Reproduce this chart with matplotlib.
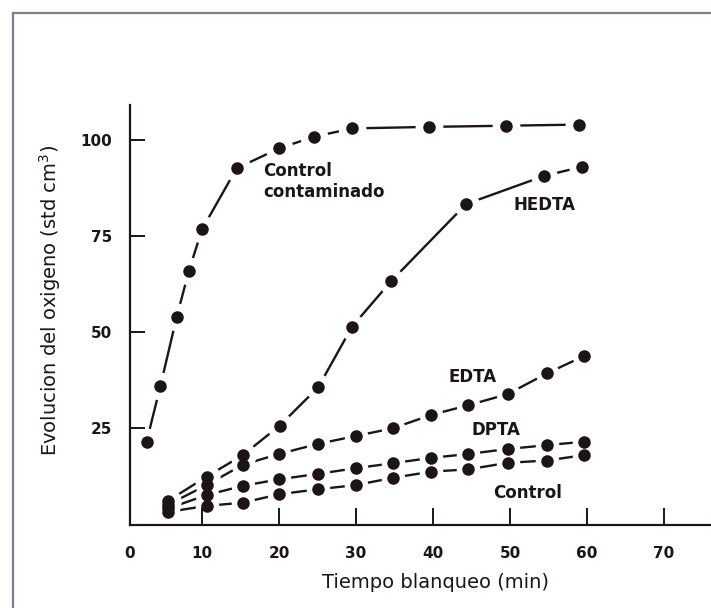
import matplotlib
matplotlib.use("Agg")
import matplotlib.pyplot as plt
from matplotlib.lines import Line2D

# ---- data ----
t_cc = [2.8, 4.6, 6.7, 8.3, 10.0, 14.5, 20.0, 24.5, 29.5, 39.5, 49.5, 59.0]
o2_cc = [21.5, 36.0, 53.9, 66.0, 76.8, 92.7, 97.9, 100.9, 103.1, 103.5, 103.8, 104.1]

t_hedta = [5.6, 10.6, 15.3, 20.1, 25.1, 29.5, 34.6, 44.3, 54.4, 59.3]
o2_hedta = [6.1, 12.4, 18.0, 25.7, 35.7, 51.5, 63.4, 83.4, 90.7, 93.1]

t_std = [5.6, 10.6, 15.3, 20.0, 25.0, 30.0, 34.8, 39.8, 44.6, 49.7, 54.8, 59.6]
o2_edta = [5.1, 10.2, 15.5, 18.3, 20.9, 23.0, 25.0, 28.5, 31.0, 33.9, 39.3, 43.8]
o2_dpta = [4.1, 7.6, 10.0, 11.7, 13.1, 14.6, 15.9, 17.3, 18.3, 19.6, 20.6, 21.5]
o2_control = [3.2, 4.8, 5.6, 7.8, 9.1, 10.2, 12.1, 13.7, 14.3, 16.0, 16.6, 18.0]

xtick_pos = [0.65, 10, 20, 30, 40, 50, 60, 70]
xtick_lab = ["0", "10", "20", "30", "40", "50", "60", "70"]
ytick_pos = [25, 50, 75, 100]
ytick_lab = ["25", "50", "75", "100"]

labels = ["Control\ncontaminado", "HEDTA", "EDTA", "DPTA", "Control"]
label_pos = [(17.9, 89.3), (54.5, 83.1), (45.1, 38.4), (48.2, 24.6), (52.3, 8.2)]
label_ha = ["left", "center", "center", "center", "center"]

INK = "#1c1418"

plt.rcParams["font.family"] = ["DejaVu Sans"]

fig = plt.figure(figsize=(7.11, 6.08), dpi=100)
fig.patch.set_facecolor("white")

# outer frame of the scanned figure
frame_col = "#85798a"
fig.add_artist(Line2D([12.5/711, 1.0], [1 - 12.5/608, 1 - 12.5/608],
                      transform=fig.transFigure, color=frame_col, lw=1.6))
fig.add_artist(Line2D([12.5/711, 12.5/711], [0.0, 1 - 12.5/608],
                      transform=fig.transFigure, color=frame_col, lw=1.6))

ax = fig.add_axes([130/711, 83/608, 581/711, 420/608])
ax.set_xlim(0.65, 76.1)
ax.set_ylim(-0.2, 109.2)

series = [(t_cc, o2_cc), (t_hedta, o2_hedta), (t_std, o2_edta),
          (t_std, o2_dpta), (t_std, o2_control)]
halo = [19, 18, 16, 16, 16]

for t, y in series:
    ax.plot(t, y, color=INK, lw=1.7, solid_capstyle="butt", zorder=1.0)
for (t, y), h in zip(series, halo):
    ax.plot(t, y, ls="none", marker="o", ms=h, mfc="white", mec="white",
            zorder=1.2)
for t, y in series:
    ax.plot(t, y, ls="none", marker="o", ms=8, mfc=INK, mec=INK, zorder=3)

for txt, (x, y), ha in zip(labels, label_pos, label_ha):
    ax.text(x, y, txt, ha=ha, va="center", fontsize=12, fontweight="bold",
            color=INK, linespacing=1.25, zorder=4)

for s in ["top", "right"]:
    ax.spines[s].set_visible(False)
for s in ["left", "bottom"]:
    ax.spines[s].set_color(INK)
    ax.spines[s].set_linewidth(1.6)
    ax.spines[s].set_zorder(2.5)

ax.set_xticks(xtick_pos)
ax.set_xticklabels(xtick_lab)
ax.set_yticks(ytick_pos)
ax.set_yticklabels(ytick_lab)
ax.tick_params(axis="x", direction="in", length=12, width=1.4, color=INK,
               pad=15, labelsize=11, labelcolor=INK)
ax.tick_params(axis="y", direction="in", length=11, width=1.4, color=INK,
               pad=13, labelsize=11, labelcolor=INK)
for lab in ax.get_xticklabels() + ax.get_yticklabels():
    lab.set_fontweight("bold")
ax.xaxis.set_zorder(1.5)
ax.yaxis.set_zorder(1.5)

fig.text(436/711, 1 - 583/608, "Tiempo blanqueo (min)", ha="center",
         va="center", fontsize=14, color=INK)
fig.text(50/711, 1 - 300/608, "Evolucion del oxigeno (std cm$^3$)",
         ha="center", va="center", rotation=90, fontsize=14, color=INK)

fig.savefig("out.png", dpi=100, facecolor="white")
